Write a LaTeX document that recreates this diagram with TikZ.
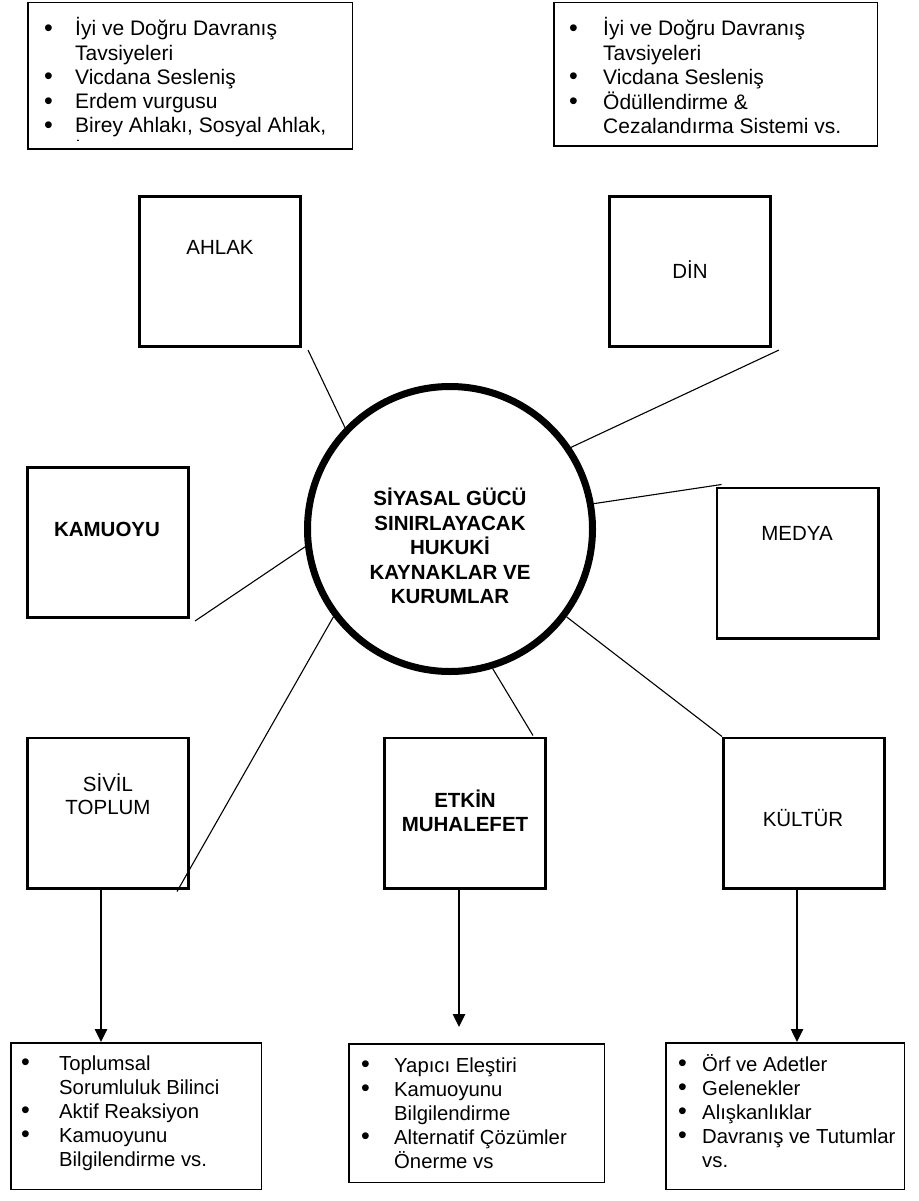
\documentclass[tikz,border=0pt]{standalone}
\usepackage{fontspec}
\setmainfont{Liberation Sans}
\usetikzlibrary{arrows.meta}

\newcommand{\itm}{\raisebox{-0.6pt}{\fontsize{25}{24}\selectfont\textbullet}}

\tikzset{
  hub/.style={circle, draw, line width=7pt, minimum size=285pt, inner sep=0pt},
  actor/.style={draw, line width=2.6pt, minimum width=161.4pt, minimum height=150.4pt, inner sep=0pt},
  tag/.style={align=center, inner sep=0pt, font=\fontsize{20.5}{23.5}\selectfont},
  tagb/.style={tag, font=\fontsize{20.5}{24.5}\selectfont\bfseries},
  note/.style={draw, line width=1.5pt, inner sep=0pt},
  points/.style={anchor=base west, inner sep=0pt, font=\fontsize{20.3}{24}\selectfont},
  spoke/.style={line width=1.1pt},
  flow/.style={line width=2.5pt, -{Triangle[length=13pt,width=12pt]}},
}

\begin{document}
\begin{tikzpicture}[x=1pt,y=-1pt]
\useasboundingbox (0,0) rectangle (918,1201);

% top notes
\node[note, minimum width=324.5pt, minimum height=146.5pt] (ahlaknote) at (190,76) {};
\begin{scope}
\clip (27,2) rectangle (353,141);
\node[points, font=\fontsize{21}{24.2}\selectfont] (ahlaklist) at (44,36) {\begin{tabular}[t]{@{}p{31pt}@{}l@{}}
\itm & İyi ve Doğru Davranış\\
 & Tavsiyeleri\\
\itm & Vicdana Sesleniş\\
\itm & Erdem vurgusu\\
\itm & Birey Ahlakı, Sosyal Ahlak,\\
 & İ
\end{tabular}};
\end{scope}
\node[note, minimum width=323.5pt, minimum height=143.5pt] (dinnote) at (715.5,74.5) {};
\node[points, font=\fontsize{21}{24.2}\selectfont] (dinlist) at (569,36) {\begin{tabular}[t]{@{}p{34pt}@{}l@{}}
\itm & İyi ve Doğru Davranış\\
 & Tavsiyeleri\\
\itm & Vicdana Sesleniş\\
\itm & Ödüllendirme \&\\
 & Cezalandırma Sistemi vs.
\end{tabular}};

% centre
\node[hub] (core) at (450,529) {};
\node[tagb] (coretext) at (450,546) {SİYASAL GÜCÜ\\SINIRLAYACAK\\HUKUKİ\\KAYNAKLAR VE\\KURUMLAR};

% squares round the centre
\node[actor] (ahlak) at (220,271.5) {};
\node[tag] (ahlaktext) at (220,247) {AHLAK};
\node[actor] (din) at (690,271.5) {};
\node[tag] (dintext) at (690,270) {DİN};
\node[actor] (kamuoyu) at (108,542.5) {};
\node[tagb] (kamuoyutext) at (107,529) {KAMUOYU};
\node[actor] (medya) at (797.5,563) {};
\node[tag] (medyatext) at (797,533) {MEDYA};
\node[actor] (sivil) at (108,813) {};
\node[tag] (siviltext) at (108,794) {SİVİL\\TOPLUM};
\node[actor] (etkin) at (465,813) {};
\node[tagb] (etkintext) at (465,811) {ETKİN\\MUHALEFET};
\node[actor] (kultur) at (804,813) {};
\node[tag] (kulturtext) at (803,818) {KÜLTÜR};

\draw[spoke] (core.136) -- ([shift={(6,2)}]ahlak.south east);
\draw[spoke] (core.34) -- ([shift={(7,2)}]din.south east);
\draw[spoke] (core.10) -- ([shift={(6,-2)}]medya.north west);
\draw[spoke] (core.187) -- ([shift={(5,2)}]kamuoyu.south east);
\draw[spoke] (core.217) -- ([shift={(-13,2)}]sivil.south east);
\draw[spoke] (core.287) -- ([shift={(-14,-1)}]etkin.north east);
\draw[spoke] (core.323) -- (kultur.north west);

% bottom notes
\node[note, minimum width=250.5pt, minimum height=146.5pt] (civ) at (136,1116) {};
\node[points] (civlist) at (21,1070) {\begin{tabular}[t]{@{}p{38pt}@{}l@{}}
\itm & Toplumsal\\
 & Sorumluluk Bilinci\\
\itm & Aktif Reaksiyon\\
\itm & Kamuoyunu\\
 & Bilgilendirme vs.
\end{tabular}};
\node[note, minimum width=255.5pt, minimum height=138.5pt] (opp) at (476.5,1113) {};
\node[points] (opplist) at (361,1072) {\begin{tabular}[t]{@{}p{33pt}@{}l@{}}
\itm & Yapıcı Eleştiri\\
\itm & Kamuoyunu\\
 & Bilgilendirme\\
\itm & Alternatif Çözümler\\
 & Önerme vs
\end{tabular}};
\node[note, minimum width=238.5pt, minimum height=146.5pt] (cult) at (785,1116) {};
\node[points] (cultlist) at (678,1071) {\begin{tabular}[t]{@{}p{24pt}@{}l@{}}
\itm & Örf ve Adetler\\
\itm & Gelenekler\\
\itm & Alışkanlıklar\\
\itm & Davranış ve Tutumlar\\
 & vs.
\end{tabular}};

\draw[flow] ([xshift=-7pt]sivil.south) -- ([xshift=-7pt]sivil.south |- civ.north);
\draw[flow] ([xshift=-6pt]etkin.south) -- ([xshift=-6pt,yshift=16pt]etkin.south |- opp.north);
\draw[flow] ([xshift=-7pt]kultur.south) -- ([xshift=-7pt]kultur.south |- cult.north);
\end{tikzpicture}
\end{document}
